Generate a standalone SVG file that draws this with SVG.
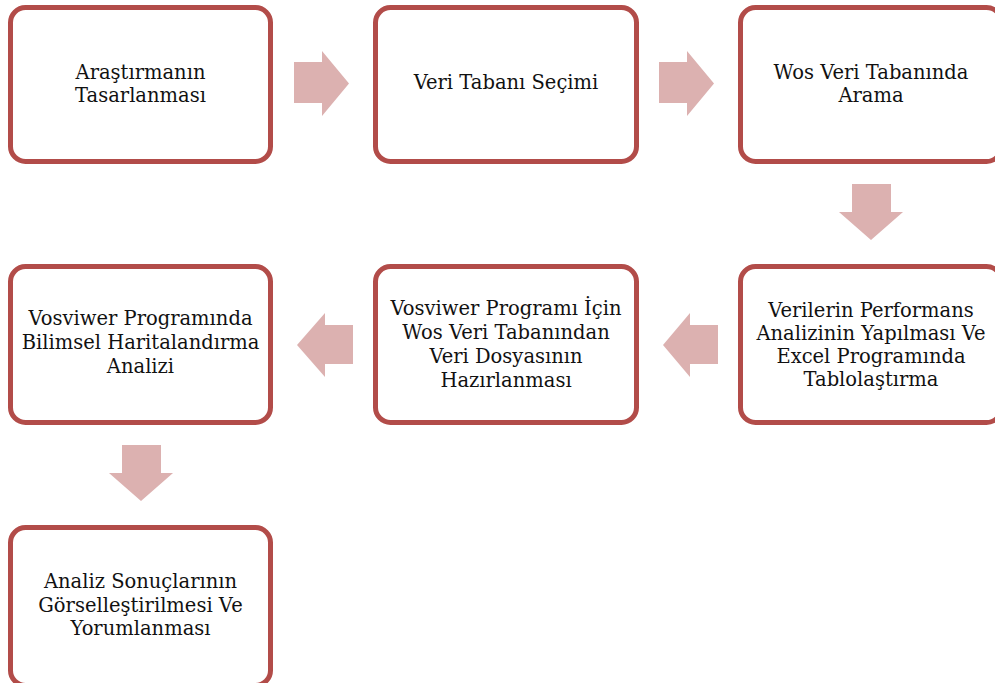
<svg xmlns="http://www.w3.org/2000/svg" width="995" height="683" viewBox="0 0 995 683">
<style>
.box{fill:#ffffff;stroke:#B24C49;stroke-width:5}
.arr{fill:#DCB1B0}
text{font-family:"DejaVu Serif","Liberation Serif",serif;font-size:19.5px;fill:#111111;text-anchor:middle}
</style>
<rect width="995" height="683" fill="#ffffff"/>
<g id="connectors">
<polygon class="arr" points="294,62 322,62 322,51 349,83.5 322,116 322,103 294,103"/>
<polygon class="arr" points="659,62 687,62 687,51 714,83.5 687,116 687,103 659,103"/>
<polygon class="arr" points="852,184 891,184 891,212 903,212 871,240 839,212 852,212"/>
<polygon class="arr" points="718,325 690,325 690,313 663,345 690,377 690,364 718,364"/>
<polygon class="arr" points="353,325 325,325 325,313 297,345 325,377 325,364 353,364"/>
<polygon class="arr" points="122,445 161,445 161,473 173,473 141,501 109,473 122,473"/>
</g>
<g id="n1">
<rect class="box" x="10.5" y="7.5" width="260" height="154" rx="15"/>
<text x="140.5" y="79">Araştırmanın</text>
<text x="140.5" y="102">Tasarlanması</text>
</g>
<g id="n2">
<rect class="box" x="375.5" y="7.5" width="261" height="154" rx="15"/>
<text x="506" y="89">Veri Tabanı Seçimi</text>
</g>
<g id="n3">
<rect class="box" x="740.5" y="7.5" width="261" height="154" rx="15"/>
<text x="871" y="79">Wos Veri Tabanında</text>
<text x="871" y="102">Arama</text>
</g>
<g id="n4">
<rect class="box" x="740.5" y="266.5" width="261" height="156" rx="15"/>
<text x="871" y="317">Verilerin Performans</text>
<text x="871" y="340">Analizinin Yapılması Ve</text>
<text x="871" y="363">Excel Programında</text>
<text x="871" y="386">Tablolaştırma</text>
</g>
<g id="n5">
<rect class="box" x="375.5" y="266.5" width="261" height="156" rx="15"/>
<text x="506" y="315">Vosviwer Programı İçin</text>
<text x="506" y="339">Wos Veri Tabanından</text>
<text x="506" y="363">Veri Dosyasının</text>
<text x="506" y="387">Hazırlanması</text>
</g>
<g id="n6">
<rect class="box" x="10.5" y="266.5" width="260" height="156" rx="15"/>
<text x="140.5" y="325">Vosviwer Programında</text>
<text x="140.5" y="349">Bilimsel Haritalandırma</text>
<text x="140.5" y="373">Analizi</text>
</g>
<g id="n7">
<rect class="box" x="10.5" y="527.5" width="260" height="158" rx="15"/>
<text x="140.5" y="588">Analiz Sonuçlarının</text>
<text x="140.5" y="612">Görselleştirilmesi Ve</text>
<text x="140.5" y="635">Yorumlanması</text>
</g>
</svg>
